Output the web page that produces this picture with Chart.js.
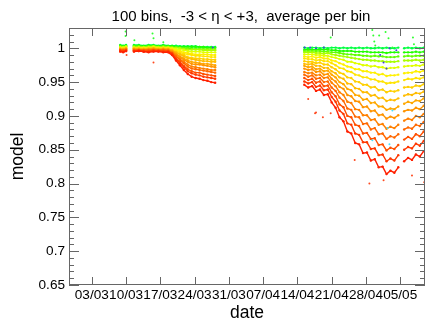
<!DOCTYPE html>
<html>
<head>
<meta charset="utf-8">
<script src="https://cdn.jsdelivr.net/npm/chart.js@4.4.1/dist/chart.umd.min.js"></script>
<style>
  html, body { margin: 0; padding: 0; background: #fff; }
  canvas { display: block; }
</style>
</head>
<body>
<canvas id="modelChart" width="429" height="321"></canvas>
<script>
// sample times, in days after 03/03
const dates = [5.8, 6.4, 7.0, 8.6, 9.6, 10.6, 11.6, 12.6, 13.6, 14.6, 15.6,
  16.4, 17.2, 18.0, 18.8, 19.6, 20.4, 21.2, 22.0, 22.8, 23.6, 24.4, 25.2,
  43.4, 44.2, 45.0, 45.8, 46.6, 47.4, 48.2, 49.0, 49.8, 50.6, 51.4, 52.2, 53.0, 53.8,
  54.6, 55.4, 56.2, 57.0, 57.8, 58.6, 59.4, 60.2, 61.0, 61.8, 62.6,
  63.8, 64.6, 65.4, 66.2, 67.0, 67.8];

const xTickDays = [0, 7, 14, 21, 28, 35, 42, 49, 56, 63];
const xTickLabels = ['03/03', '10/03', '17/03', '24/03', '31/03', '07/04', '14/04', '21/04', '28/04', '05/05'];
const yTicks = [0.65, 0.7, 0.75, 0.8, 0.85, 0.9, 0.95, 1];
const yTickLabels = ['0.65', '0.7', '0.75', '0.8', '0.85', '0.9', '0.95', '1'];
const titleText = '100 bins,  -3 < \u03b7 < +3,  average per bin';

// model value per eta bin (lowest response first)
const bin00 = [0.995, 0.994, 0.996, 0.995, 0.996, 0.995, 0.994, 0.995, 0.995, 0.994, 0.994,
  0.990, 0.982, 0.975, 0.968, 0.962, 0.958, 0.956, 0.955, 0.953, 0.952, 0.950, 0.949,
  0.946, 0.942, 0.944, 0.937, 0.939, 0.931, 0.932, 0.920, 0.912, 0.898, 0.892, 0.877, 0.874, 0.860,
  0.858, 0.845, 0.846, 0.834, 0.836, 0.824, 0.825, 0.814, 0.819, 0.816, 0.824,
  0.833, 0.838, 0.835, 0.843, 0.840, 0.848];
const bin01 = [0.996, 0.995, 0.996, 0.996, 0.996, 0.995, 0.995, 0.996, 0.996, 0.995, 0.995,
  0.992, 0.984, 0.978, 0.972, 0.966, 0.963, 0.961, 0.960, 0.958, 0.957, 0.956, 0.955,
  0.951, 0.948, 0.950, 0.943, 0.945, 0.938, 0.939, 0.928, 0.921, 0.908, 0.903, 0.889, 0.887, 0.874,
  0.872, 0.861, 0.861, 0.851, 0.852, 0.842, 0.843, 0.833, 0.837, 0.834, 0.842,
  0.850, 0.854, 0.852, 0.859, 0.856, 0.863];
const bin02 = [0.997, 0.996, 0.997, 0.996, 0.997, 0.996, 0.996, 0.997, 0.996, 0.996, 0.996,
  0.992, 0.985, 0.980, 0.974, 0.969, 0.966, 0.964, 0.964, 0.962, 0.961, 0.960, 0.959,
  0.956, 0.953, 0.955, 0.949, 0.951, 0.944, 0.945, 0.935, 0.929, 0.917, 0.913, 0.900, 0.898, 0.887,
  0.885, 0.874, 0.875, 0.866, 0.867, 0.857, 0.858, 0.849, 0.853, 0.851, 0.857,
  0.865, 0.869, 0.866, 0.873, 0.870, 0.877];
const bin03 = [0.997, 0.997, 0.998, 0.997, 0.997, 0.997, 0.997, 0.997, 0.997, 0.997, 0.996,
  0.993, 0.988, 0.983, 0.978, 0.973, 0.970, 0.969, 0.968, 0.967, 0.966, 0.965, 0.964,
  0.961, 0.958, 0.960, 0.955, 0.956, 0.950, 0.951, 0.942, 0.937, 0.927, 0.922, 0.911, 0.909, 0.899,
  0.898, 0.888, 0.889, 0.880, 0.882, 0.873, 0.874, 0.866, 0.870, 0.868, 0.873,
  0.880, 0.883, 0.881, 0.887, 0.885, 0.891];
const bin04 = [0.998, 0.997, 0.998, 0.998, 0.998, 0.997, 0.998, 0.998, 0.997, 0.998, 0.997,
  0.994, 0.989, 0.984, 0.980, 0.976, 0.973, 0.972, 0.971, 0.970, 0.969, 0.968, 0.968,
  0.965, 0.963, 0.964, 0.960, 0.961, 0.956, 0.957, 0.949, 0.944, 0.935, 0.931, 0.921, 0.919, 0.910,
  0.909, 0.901, 0.901, 0.894, 0.895, 0.887, 0.888, 0.881, 0.884, 0.882, 0.887,
  0.893, 0.896, 0.894, 0.900, 0.898, 0.903];
const bin05 = [0.998, 0.998, 0.999, 0.998, 0.998, 0.998, 0.998, 0.999, 0.998, 0.998, 0.998,
  0.995, 0.991, 0.987, 0.983, 0.980, 0.977, 0.976, 0.976, 0.975, 0.974, 0.973, 0.972,
  0.970, 0.968, 0.969, 0.965, 0.966, 0.961, 0.962, 0.955, 0.951, 0.943, 0.940, 0.931, 0.929, 0.922,
  0.921, 0.913, 0.914, 0.907, 0.908, 0.901, 0.902, 0.896, 0.899, 0.897, 0.901,
  0.907, 0.909, 0.908, 0.912, 0.910, 0.915];
const bin06 = [0.999, 0.998, 0.999, 0.999, 0.999, 0.998, 0.999, 0.999, 0.998, 0.999, 0.998,
  0.996, 0.992, 0.988, 0.985, 0.982, 0.980, 0.979, 0.978, 0.977, 0.977, 0.976, 0.975,
  0.974, 0.972, 0.973, 0.969, 0.970, 0.966, 0.967, 0.961, 0.957, 0.950, 0.947, 0.940, 0.938, 0.931,
  0.930, 0.924, 0.925, 0.919, 0.920, 0.914, 0.914, 0.909, 0.911, 0.910, 0.914,
  0.918, 0.921, 0.919, 0.923, 0.922, 0.926];
const bin07 = [0.999, 0.999, 1.000, 0.999, 0.999, 0.999, 0.999, 1.000, 0.999, 0.999, 0.999,
  0.997, 0.994, 0.991, 0.988, 0.985, 0.984, 0.983, 0.982, 0.981, 0.981, 0.980, 0.980,
  0.977, 0.976, 0.977, 0.974, 0.974, 0.971, 0.971, 0.966, 0.963, 0.957, 0.955, 0.948, 0.947, 0.941,
  0.940, 0.935, 0.935, 0.930, 0.931, 0.926, 0.927, 0.922, 0.924, 0.923, 0.926,
  0.930, 0.932, 0.931, 0.934, 0.933, 0.936];
const bin08 = [1.000, 0.999, 1.000, 1.000, 1.000, 0.999, 1.000, 1.000, 0.999, 1.000, 0.999,
  0.997, 0.994, 0.992, 0.990, 0.987, 0.986, 0.985, 0.985, 0.984, 0.984, 0.983, 0.983,
  0.981, 0.980, 0.980, 0.978, 0.979, 0.976, 0.976, 0.972, 0.969, 0.964, 0.962, 0.957, 0.956, 0.951,
  0.950, 0.946, 0.946, 0.942, 0.943, 0.938, 0.939, 0.935, 0.937, 0.936, 0.938,
  0.942, 0.943, 0.942, 0.945, 0.944, 0.947];
const bin09 = [1.000, 1.000, 1.001, 1.000, 1.000, 1.000, 1.000, 1.001, 1.000, 1.000, 1.000,
  0.999, 0.996, 0.994, 0.992, 0.991, 0.990, 0.989, 0.989, 0.988, 0.988, 0.987, 0.987,
  0.985, 0.984, 0.984, 0.982, 0.983, 0.981, 0.981, 0.978, 0.975, 0.971, 0.970, 0.966, 0.965, 0.961,
  0.960, 0.957, 0.957, 0.954, 0.954, 0.951, 0.951, 0.948, 0.949, 0.949, 0.951,
  0.953, 0.955, 0.954, 0.956, 0.955, 0.957];
const bin10 = [1.001, 1.000, 1.001, 1.001, 1.001, 1.000, 1.001, 1.001, 1.000, 1.001, 1.000,
  0.999, 0.997, 0.996, 0.994, 0.993, 0.992, 0.991, 0.991, 0.991, 0.991, 0.990, 0.990,
  0.988, 0.987, 0.988, 0.986, 0.987, 0.985, 0.985, 0.982, 0.981, 0.978, 0.976, 0.973, 0.972, 0.969,
  0.969, 0.966, 0.966, 0.964, 0.964, 0.961, 0.962, 0.959, 0.960, 0.960, 0.961,
  0.963, 0.964, 0.964, 0.966, 0.965, 0.967];
const bin11 = [1.001, 1.001, 1.002, 1.001, 1.001, 1.001, 1.001, 1.002, 1.001, 1.001, 1.001,
  1.000, 0.999, 0.998, 0.997, 0.996, 0.995, 0.995, 0.995, 0.994, 0.994, 0.994, 0.994,
  0.991, 0.991, 0.991, 0.990, 0.990, 0.989, 0.989, 0.987, 0.986, 0.984, 0.983, 0.980, 0.980, 0.978,
  0.977, 0.975, 0.975, 0.973, 0.974, 0.972, 0.972, 0.970, 0.971, 0.971, 0.972,
  0.973, 0.974, 0.974, 0.975, 0.974, 0.976];
const bin12 = [1.002, 1.002, 1.003, 1.002, 1.002, 1.002, 1.002, 1.003, 1.002, 1.002, 1.002,
  1.001, 1.001, 1.000, 0.999, 0.998, 0.998, 0.998, 0.998, 0.997, 0.997, 0.997, 0.997,
  0.994, 0.994, 0.994, 0.993, 0.993, 0.992, 0.993, 0.991, 0.990, 0.989, 0.988, 0.987, 0.986, 0.985,
  0.984, 0.983, 0.983, 0.982, 0.982, 0.981, 0.981, 0.980, 0.980, 0.980, 0.981,
  0.982, 0.982, 0.982, 0.983, 0.982, 0.983];
const bin13 = [1.003, 1.002, 1.003, 1.003, 1.003, 1.002, 1.003, 1.003, 1.002, 1.003, 1.002,
  1.002, 1.001, 1.001, 1.000, 1.000, 0.999, 0.999, 0.999, 0.999, 0.999, 0.999, 0.999,
  0.996, 0.996, 0.996, 0.996, 0.996, 0.995, 0.995, 0.994, 0.994, 0.993, 0.992, 0.991, 0.991, 0.990,
  0.990, 0.989, 0.989, 0.988, 0.989, 0.988, 0.988, 0.987, 0.987, 0.987, 0.988,
  0.988, 0.989, 0.988, 0.989, 0.989, 0.989];
const bin14 = [1.004, 1.003, 1.004, 1.004, 1.004, 1.003, 1.004, 1.004, 1.003, 1.004, 1.003,
  1.003, 1.002, 1.002, 1.002, 1.002, 1.002, 1.002, 1.002, 1.002, 1.001, 1.001, 1.001,
  0.998, 0.998, 0.998, 0.998, 0.998, 0.998, 0.998, 0.997, 0.997, 0.996, 0.996, 0.996, 0.996, 0.995,
  0.995, 0.995, 0.995, 0.994, 0.994, 0.994, 0.994, 0.993, 0.994, 0.994, 0.994,
  0.994, 0.994, 0.994, 0.995, 0.994, 0.995];
const bin15 = [1.005, 1.004, 1.005, 1.005, 1.005, 1.004, 1.005, 1.005, 1.004, 1.005, 1.004,
  1.004, 1.004, 1.003, 1.003, 1.003, 1.003, 1.003, 1.002, 1.002, 1.002, 1.002, 1.002,
  1.001, 1.000, 1.001, 1.001, 1.000, 1.001, 1.000, 1.001, 1.001, 1.000, 1.001, 1.000, 1.001, 1.000,
  1.001, 1.000, 1.001, 1.000, 1.000, 1.001, 1.000, 1.001, 1.000, 1.000, 1.001,
  1.000, 1.001, 1.000, 1.001, 1.000, 1.001];

// stray points off the bands
const greenOutX = [6.9, 6.9, 8.7, 12.4, 12.6, 14.6, 48.8, 57.3, 57.5, 57.7, 57.9, 58.7, 60.0, 60.6, 61.4, 65.6, 65.8];
const greenOutY = [1.025, 1.018, 1.012, 1.022, 1.015, 1.009, 1.016, 1.027, 1.019, 1.010, 1.004, 1.019, 1.024, 1.015, 1.001, 1.016, 1.006];
const redOutX = [7.1, 12.6, 44.2, 45.6, 45.8, 47.2, 48.8, 53.7, 56.7, 59.6, 65.4, 67.9];
const redOutY = [0.990, 0.979, 0.925, 0.904, 0.905, 0.898, 0.904, 0.835, 0.800, 0.805, 0.812, 0.802];
const blueOutX = [24.7, 43.5, 44.6, 45.8, 47.4, 58.9, 59.6, 60.2, 60.8, 62.2];
const blueOutY = [1.001, 1.001, 1.001, 1.000, 1.001, 0.990, 0.979, 0.970, 1.000, 0.997];
const cyanOutX = [57.3, 60.4, 60.8, 61.4];
const cyanOutY = [0.864, 0.882, 0.858, 0.908];

const bins = [bin00, bin01, bin02, bin03, bin04, bin05, bin06, bin07,
  bin08, bin09, bin10, bin11, bin12, bin13, bin14, bin15];
const binColors = ['#ff2000', '#ff3800', '#ff5000', '#ff6800', '#ff8000', '#ff9400', '#ffa800', '#ffbc00',
  '#ffd000', '#ffe400', '#fff000', '#e0ff00', '#a8ff00', '#60ff00', '#20ff00', '#00ff40'];

// break the line where there is no data for a while
function toPoints(values) {
  const pts = [];
  dates.forEach((d, i) => {
    if (i > 0 && d - dates[i - 1] > 1.1) {
      pts.push({ x: (d + dates[i - 1]) / 2, y: null });
    }
    pts.push({ x: d, y: values[i] });
  });
  return pts;
}

function strayPoints(xs, ys) {
  return xs.map((x, i) => ({ x: x, y: ys[i] }));
}

const strays = [
  { data: strayPoints(greenOutX, greenOutY), color: '#30ff30' },
  { data: strayPoints(redOutX, redOutY), color: '#ff4a20' },
  { data: strayPoints(blueOutX, blueOutY), color: '#4040e0' },
  { data: strayPoints(cyanOutX, cyanOutY), color: '#40e0ff' }
].map(s => ({
  data: s.data,
  showLine: false,
  pointRadius: 1,
  pointBorderWidth: 0,
  pointBackgroundColor: s.color
}));

const binSets = bins.map((values, i) => ({
  data: toPoints(values),
  showLine: true,
  spanGaps: false,
  borderColor: binColors[i],
  borderWidth: 1.4,
  pointRadius: 1.2,
  pointBorderWidth: 0,
  pointBackgroundColor: binColors[i]
}));

// ROOT-like frame with inner ticks on all four sides, and the title
const rootFrame = {
  id: 'rootFrame',
  afterDraw(chart) {
    const { ctx, chartArea: a, scales: { x, y } } = chart;
    ctx.save();
    ctx.strokeStyle = '#666';
    ctx.lineWidth = 1;
    ctx.strokeRect(a.left + 0.5, a.top + 0.5, a.right - a.left - 1, a.bottom - a.top - 1);
    ctx.beginPath();
    xTickDays.forEach(d => {
      const px = Math.round(x.getPixelForValue(d)) + 0.5;
      ctx.moveTo(px, a.bottom); ctx.lineTo(px, a.bottom - 8);
      ctx.moveTo(px, a.top); ctx.lineTo(px, a.top + 8);
    });
    for (let k = 65; k <= 103; k++) {
      const len = k % 5 === 0 ? 10 : 5;
      const py = Math.round(y.getPixelForValue(k / 100)) + 0.5;
      ctx.moveTo(a.left, py); ctx.lineTo(a.left + len, py);
      ctx.moveTo(a.right, py); ctx.lineTo(a.right - len, py);
    }
    ctx.stroke();
    ctx.fillStyle = '#000';
    ctx.font = '15px "Liberation Sans", Arial, sans-serif';
    ctx.textAlign = 'center';
    ctx.textBaseline = 'alphabetic';
    ctx.fillText(titleText, 241, 20.5);
    ctx.restore();
  }
};

Chart.defaults.font.family = '"Liberation Sans", Arial, sans-serif';
Chart.defaults.color = '#000';

const ctx = document.getElementById('modelChart').getContext('2d');
new Chart(ctx, {
  type: 'scatter',
  data: { datasets: strays.concat(binSets) },
  options: {
    responsive: false,
    animation: false,
    layout: { padding: { top: 28, right: 1, left: 0, bottom: 0 } },
    plugins: { legend: { display: false }, tooltip: { enabled: false } },
    scales: {
      x: {
        type: 'linear',
        min: -4.66,
        max: 68.06,
        grid: { display: false, drawTicks: false },
        border: { display: false },
        afterFit: s => { s.height = 36; },
        afterBuildTicks: s => { s.ticks = xTickDays.map(v => ({ value: v })); },
        ticks: {
          autoSkip: false,
          maxRotation: 0,
          minRotation: 0,
          padding: 2,
          font: { size: 13.6 },
          callback: (v, i) => xTickLabels[i]
        },
        title: {
          display: true,
          text: 'date',
          font: { size: 17.5, lineHeight: 1 },
          padding: { top: 0, bottom: -1 }
        }
      },
      y: {
        type: 'linear',
        min: 0.65,
        max: 1.03,
        grid: { display: false, drawTicks: false },
        border: { display: false },
        afterFit: s => { s.width = 69; },
        afterBuildTicks: s => { s.ticks = yTicks.map(v => ({ value: v })); },
        ticks: {
          padding: 4,
          font: { size: 13.6 },
          callback: (v, i) => yTickLabels[i]
        },
        title: {
          display: true,
          text: 'model',
          font: { size: 17.5, lineHeight: 1 },
          padding: { top: 9, bottom: 0 }
        }
      }
    }
  },
  plugins: [rootFrame]
});
</script>
</body>
</html>
